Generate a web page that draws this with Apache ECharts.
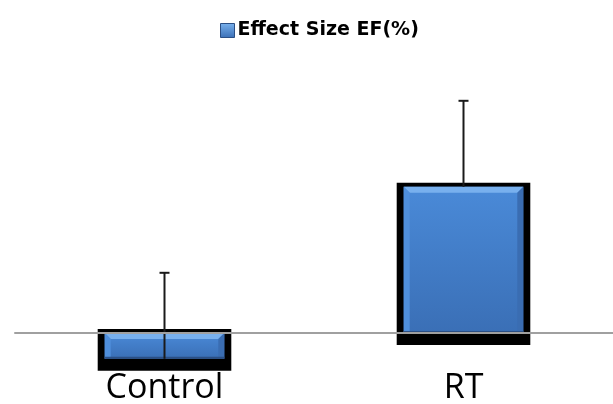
<!DOCTYPE html>
<html>
<head>
<meta charset="utf-8">
<script src="https://cdn.jsdelivr.net/npm/echarts@6/dist/echarts.min.js"></script>
<style>
  html, body { margin: 0; padding: 0; background: #fff; }
  #chart { width: 613px; height: 404px; }
</style>
</head>
<body>
<div id="chart"></div>
<script>
const categories = ['Control', 'RT'];
const effectValues = [-3, 17];
const errorValues = [10, 10];
const seriesName = 'Effect Size EF(%)';

const chart = echarts.init(document.getElementById('chart'));

const bodyFill = new echarts.graphic.LinearGradient(0, 0, 0, 1, [
    { offset: 0, color: '#4a8ad8' },
    { offset: 1, color: '#3a6fb6' }
]);

function renderBar(params, api) {
    const idx = api.value(0);
    const val = api.value(1);
    const err = api.value(2);
    const base = api.coord([idx, 0]);
    const end = api.coord([idx, val]);
    const tip = api.coord([idx, val + err]);
    const w = api.size([1, 0])[0] * 0.4;
    const x = base[0] - w / 2;
    const top = Math.min(base[1], end[1]);
    const bot = Math.max(base[1], end[1]);
    const h = bot - top;
    const b = 6; // bevel
    const cx = base[0];

    return {
        type: 'group',
        children: [
            // black backing
            { type: 'rect', shape: { x: x - 7, y: top - 4, width: w + 14, height: h + 16 }, style: { fill: '#000' } },
            { type: 'rect', shape: { x: x, y: top, width: w, height: h }, style: { fill: bodyFill } },
            { type: 'polygon', shape: { points: [[x, top], [x + w, top], [x + w - b, top + b], [x + b, top + b]] }, style: { fill: '#78b0ee' } },
            { type: 'polygon', shape: { points: [[x, top], [x + b, top + b], [x + b, bot - 2], [x, bot]] }, style: { fill: '#4f8fdc' } },
            { type: 'polygon', shape: { points: [[x + w, top], [x + w - b, top + b], [x + w - b, bot - 2], [x + w, bot]] }, style: { fill: '#3a6db2' } },
            { type: 'rect', shape: { x: x, y: bot - 2, width: w, height: 2 }, style: { fill: '#2b4f85' } },
            // error bar
            { type: 'line', shape: { x1: cx, y1: end[1], x2: cx, y2: tip[1] }, style: { stroke: '#1a1a1a', lineWidth: 2 } },
            { type: 'line', shape: { x1: cx - 5, y1: tip[1], x2: cx + 5, y2: tip[1] }, style: { stroke: '#1a1a1a', lineWidth: 2 } }
        ]
    };
}

const option = {
    animation: false,
    legend: {
        left: 215,
        top: 16,
        itemWidth: 14,
        itemHeight: 14,
        itemGap: 0,
        textStyle: { fontFamily: 'DejaVu Sans', fontWeight: 'bold', fontSize: 19, color: '#000', padding: [0, 0, 0, -2] },
        data: [{
            name: seriesName,
            icon: 'rect',
            itemStyle: {
                color: new echarts.graphic.LinearGradient(0, 0, 0, 1, [
                    { offset: 0, color: '#7ab2ee' },
                    { offset: 1, color: '#3a6fb6' }
                ]),
                borderColor: '#2b4f85',
                borderWidth: 1
            }
        }]
    },
    grid: { left: 15, right: 0, top: 75, bottom: 62.4, outerBoundsMode: 'none' },
    xAxis: {
        type: 'category',
        data: categories,
        z: 5,
        axisLine: { onZero: true, lineStyle: { color: '#a0a0a0', width: 2 } },
        axisTick: { show: false },
        axisLabel: { fontFamily: 'Open Sans', fontSize: 34, color: '#000', margin: 30 }
    },
    yAxis: {
        type: 'value',
        min: -1,
        max: 30,
        show: false,
        splitLine: { show: false }
    },
    series: [{
        name: seriesName,
        type: 'custom',
        z: 2,
        clip: false,
        itemStyle: { color: '#4a86d2' },
        renderItem: renderBar,
        data: categories.map((c, i) => [i, effectValues[i], errorValues[i]])
    }]
};

chart.setOption(option);
</script>
</body>
</html>
